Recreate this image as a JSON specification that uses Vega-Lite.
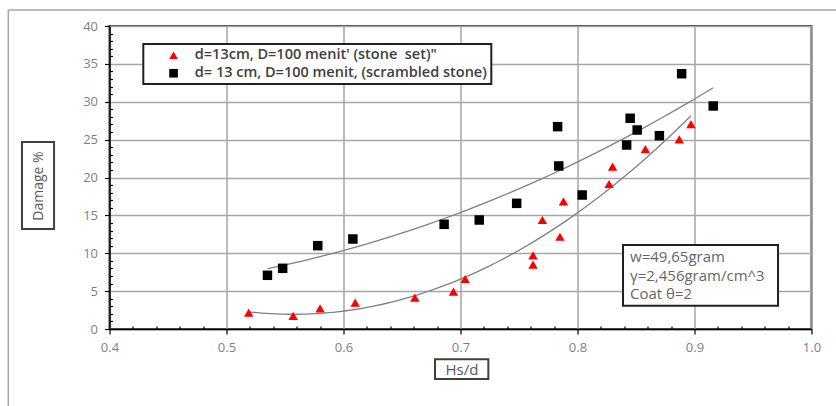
{
  "$schema": "https://vega.github.io/schema/vega-lite/v6.json",
  "width": 702,
  "height": 303,
  "autosize": {"type": "none"},
  "padding": {"left": 109.5, "top": 26, "right": 24.5, "bottom": 77},
  "background": "#ffffff",
  "config": {
    "font": "Open Sans",
    "view": {"stroke": "#404040", "strokeWidth": 2},
    "legend": {"strokeWidth": 2}
  },
  "datasets": {
    "pts": [
      {"series": "d=13cm, D=100 menit' (stone \u00a0set)\"", "hs": 0.519, "damage": 2.15},
      {"series": "d=13cm, D=100 menit' (stone \u00a0set)\"", "hs": 0.557, "damage": 1.72},
      {"series": "d=13cm, D=100 menit' (stone \u00a0set)\"", "hs": 0.580, "damage": 2.73},
      {"series": "d=13cm, D=100 menit' (stone \u00a0set)\"", "hs": 0.610, "damage": 3.47},
      {"series": "d=13cm, D=100 menit' (stone \u00a0set)\"", "hs": 0.661, "damage": 4.13},
      {"series": "d=13cm, D=100 menit' (stone \u00a0set)\"", "hs": 0.694, "damage": 4.92},
      {"series": "d=13cm, D=100 menit' (stone \u00a0set)\"", "hs": 0.704, "damage": 6.60},
      {"series": "d=13cm, D=100 menit' (stone \u00a0set)\"", "hs": 0.762, "damage": 8.49},
      {"series": "d=13cm, D=100 menit' (stone \u00a0set)\"", "hs": 0.762, "damage": 9.73},
      {"series": "d=13cm, D=100 menit' (stone \u00a0set)\"", "hs": 0.785, "damage": 12.18},
      {"series": "d=13cm, D=100 menit' (stone \u00a0set)\"", "hs": 0.770, "damage": 14.39},
      {"series": "d=13cm, D=100 menit' (stone \u00a0set)\"", "hs": 0.788, "damage": 16.86},
      {"series": "d=13cm, D=100 menit' (stone \u00a0set)\"", "hs": 0.827, "damage": 19.14},
      {"series": "d=13cm, D=100 menit' (stone \u00a0set)\"", "hs": 0.830, "damage": 21.43},
      {"series": "d=13cm, D=100 menit' (stone \u00a0set)\"", "hs": 0.858, "damage": 23.76},
      {"series": "d=13cm, D=100 menit' (stone \u00a0set)\"", "hs": 0.887, "damage": 25.04},
      {"series": "d=13cm, D=100 menit' (stone \u00a0set)\"", "hs": 0.897, "damage": 27.06},
      {"series": "d= 13 cm, D=100 menit, (scrambled stone)", "hs": 0.535, "damage": 7.09},
      {"series": "d= 13 cm, D=100 menit, (scrambled stone)", "hs": 0.548, "damage": 8.01},
      {"series": "d= 13 cm, D=100 menit, (scrambled stone)", "hs": 0.578, "damage": 11.0},
      {"series": "d= 13 cm, D=100 menit, (scrambled stone)", "hs": 0.608, "damage": 11.88},
      {"series": "d= 13 cm, D=100 menit, (scrambled stone)", "hs": 0.686, "damage": 13.82},
      {"series": "d= 13 cm, D=100 menit, (scrambled stone)", "hs": 0.716, "damage": 14.39},
      {"series": "d= 13 cm, D=100 menit, (scrambled stone)", "hs": 0.748, "damage": 16.59},
      {"series": "d= 13 cm, D=100 menit, (scrambled stone)", "hs": 0.784, "damage": 21.52},
      {"series": "d= 13 cm, D=100 menit, (scrambled stone)", "hs": 0.783, "damage": 26.71},
      {"series": "d= 13 cm, D=100 menit, (scrambled stone)", "hs": 0.804, "damage": 17.69},
      {"series": "d= 13 cm, D=100 menit, (scrambled stone)", "hs": 0.842, "damage": 24.29},
      {"series": "d= 13 cm, D=100 menit, (scrambled stone)", "hs": 0.845, "damage": 27.82},
      {"series": "d= 13 cm, D=100 menit, (scrambled stone)", "hs": 0.851, "damage": 26.27},
      {"series": "d= 13 cm, D=100 menit, (scrambled stone)", "hs": 0.870, "damage": 25.52},
      {"series": "d= 13 cm, D=100 menit, (scrambled stone)", "hs": 0.889, "damage": 33.70},
      {"series": "d= 13 cm, D=100 menit, (scrambled stone)", "hs": 0.916, "damage": 29.44}
    ],
    "one": [{}]
  },
  "data": {"name": "pts"},
  "layer": [
    {
      "data": {"name": "one"},
      "mark": {"type": "rule", "color": "#a6a6a6", "strokeWidth": 1.5},
      "encoding": {
        "x": {"datum": 0.3135, "type": "quantitative"},
        "y": {"datum": 42.11, "type": "quantitative"},
        "y2": {"datum": -11}
      }
    },
    {
      "data": {"name": "one"},
      "mark": {"type": "rule", "color": "#a6a6a6", "strokeWidth": 1.5},
      "encoding": {
        "x": {"datum": 0.3135, "type": "quantitative"},
        "x2": {"datum": 1.05},
        "y": {"datum": 42.11, "type": "quantitative"}
      }
    },
    {
      "data": {"name": "one"},
      "mark": {"type": "rect", "fill": "#ffffff", "fillOpacity": 0, "stroke": "#404040", "strokeWidth": 2},
      "encoding": {
        "x": {"datum": 0.3252, "type": "quantitative"},
        "x2": {"datum": 0.3526},
        "y": {"datum": 24.69, "type": "quantitative"},
        "y2": {"datum": 13.2}
      }
    },
    {
      "data": {"name": "one"},
      "mark": {"type": "rect", "fill": "#ffffff", "fillOpacity": 0, "stroke": "#404040", "strokeWidth": 2},
      "encoding": {
        "x": {"datum": 0.6782, "type": "quantitative"},
        "x2": {"datum": 0.7238},
        "y": {"datum": -4.0, "type": "quantitative"},
        "y2": {"datum": -6.6}
      }
    },
    {
      "transform": [
        {"regression": "damage", "on": "hs", "groupby": ["series"], "method": "poly", "order": 2}
      ],
      "mark": {"type": "line", "color": "#808080", "strokeWidth": 1.3},
      "encoding": {
        "x": {"field": "hs", "type": "quantitative"},
        "y": {"field": "damage", "type": "quantitative"},
        "detail": {"field": "series"}
      }
    },
    {
      "mark": {"type": "point", "filled": true, "opacity": 1, "size": 90},
      "encoding": {
        "x": {
          "field": "hs", "type": "quantitative",
          "scale": {"domain": [0.4, 1.0], "nice": false, "zero": false},
          "axis": {
            "title": "Hs/d",
            "tickCount": 200,
            "labelOverlap": false,
            "values": [0.4,0.42,0.44,0.46,0.48,0.5,0.52,0.54,0.56,0.58,0.6,0.62,0.64,0.66,0.68,0.7,0.72,0.74,0.76,0.78,0.8,0.82,0.84,0.86,0.88,0.9,0.92,0.94,0.96,0.98,1.0],
            "labelExpr": "abs(datum.value*10 - round(datum.value*10)) < 0.000001 ? format(datum.value, '.1f') : ''",
            "grid": true,
            "gridColor": "#a6a6a6",
            "gridWidth": 1.5,
            "gridOpacity": {"condition": {"test": "abs(datum.value*10 - round(datum.value*10)) < 0.000001", "value": 1}, "value": 0},
            "domainColor": "#000000",
            "domainWidth": 1.5,
            "tickColor": "#000000",
            "tickWidth": 1.2,
            "tickSize": {"condition": {"test": "abs(datum.value*10 - round(datum.value*10)) < 0.000001", "value": 5}, "value": -3},
            "labelColor": "#7f7f7f",
            "labelFontSize": 13,
            "labelPadding": 7,
            "labelFlush": false,
            "titleColor": "#595959",
            "titleFontSize": 15,
            "titleFontWeight": "normal",
            "titleX": 352,
            "titleY": 40,
            "titleBaseline": "middle",
            "titleAlign": "center"
          }
        },
        "y": {
          "field": "damage", "type": "quantitative",
          "scale": {"domain": [0, 40], "nice": false},
          "axis": {
            "title": "Damage %",
            "tickCount": 200,
            "labelOverlap": false,
            "values": [0,1,2,3,4,5,6,7,8,9,10,11,12,13,14,15,16,17,18,19,20,21,22,23,24,25,26,27,28,29,30,31,32,33,34,35,36,37,38,39,40],
            "labelExpr": "datum.value % 5 === 0 ? format(datum.value, 'd') : ''",
            "grid": true,
            "gridColor": "#a6a6a6",
            "gridWidth": 1.5,
            "gridOpacity": {"condition": {"test": "datum.value % 5 === 0", "value": 1}, "value": 0},
            "domainColor": "#000000",
            "domainWidth": 1.5,
            "tickColor": "#000000",
            "tickWidth": 1.2,
            "tickSize": {"condition": {"test": "datum.value % 5 === 0", "value": 5}, "value": -3},
            "labelColor": "#7f7f7f",
            "labelFontSize": 13,
            "labelPadding": 7,
            "labelFlush": false,
            "titleColor": "#595959",
            "titleFontSize": 14,
            "titleFontWeight": "normal",
            "titleAngle": 270,
            "titleX": -71.5,
            "titleY": 159.5,
            "titleBaseline": "middle",
            "titleAlign": "center"
          }
        },
        "shape": {
          "field": "series", "type": "nominal",
          "scale": {
            "domain": ["d=13cm, D=100 menit' (stone \u00a0set)\"", "d= 13 cm, D=100 menit, (scrambled stone)"],
            "range": ["triangle-up", "square"]
          },
          "legend": {
            "title": null,
            "orient": "none",
            "legendX": 33.8,
            "legendY": 18,
            "strokeColor": "#202020",
            "fillColor": "#ffffff",
            "padding": 4,
            "symbolOffset": 19,
            "labelOffset": 14,
            "rowPadding": 3,
            "labelFontSize": 14.5,
            "labelFontWeight": 600,
            "labelColor": "#404040",
            "labelLimit": 0,
            "symbolSize": 75,
            "symbolStrokeWidth": 0
          }
        },
        "color": {
          "field": "series", "type": "nominal",
          "scale": {
            "domain": ["d=13cm, D=100 menit' (stone \u00a0set)\"", "d= 13 cm, D=100 menit, (scrambled stone)"],
            "range": ["#ff0000", "#000000"]
          }
        }
      }
    },
    {
      "data": {"name": "one"},
      "mark": {"type": "rect", "fill": "#ffffff", "stroke": "#202020", "strokeWidth": 2},
      "encoding": {
        "x": {"datum": 0.8389, "type": "quantitative"},
        "x2": {"datum": 0.9714},
        "y": {"datum": 11.09, "type": "quantitative"},
        "y2": {"datum": 3.08}
      }
    },
    {
      "data": {"name": "one"},
      "mark": {"type": "text", "align": "left", "baseline": "middle", "fontSize": 15, "color": "#666666", "lineHeight": 18.5},
      "encoding": {
        "x": {"datum": 0.8449, "type": "quantitative"},
        "y": {"datum": 9.47, "type": "quantitative"},
        "text": {"value": ["w=49,65gram", "γ=2,456gram/cm^3", "Coat θ=2"]}
      }
    }
  ]
}
